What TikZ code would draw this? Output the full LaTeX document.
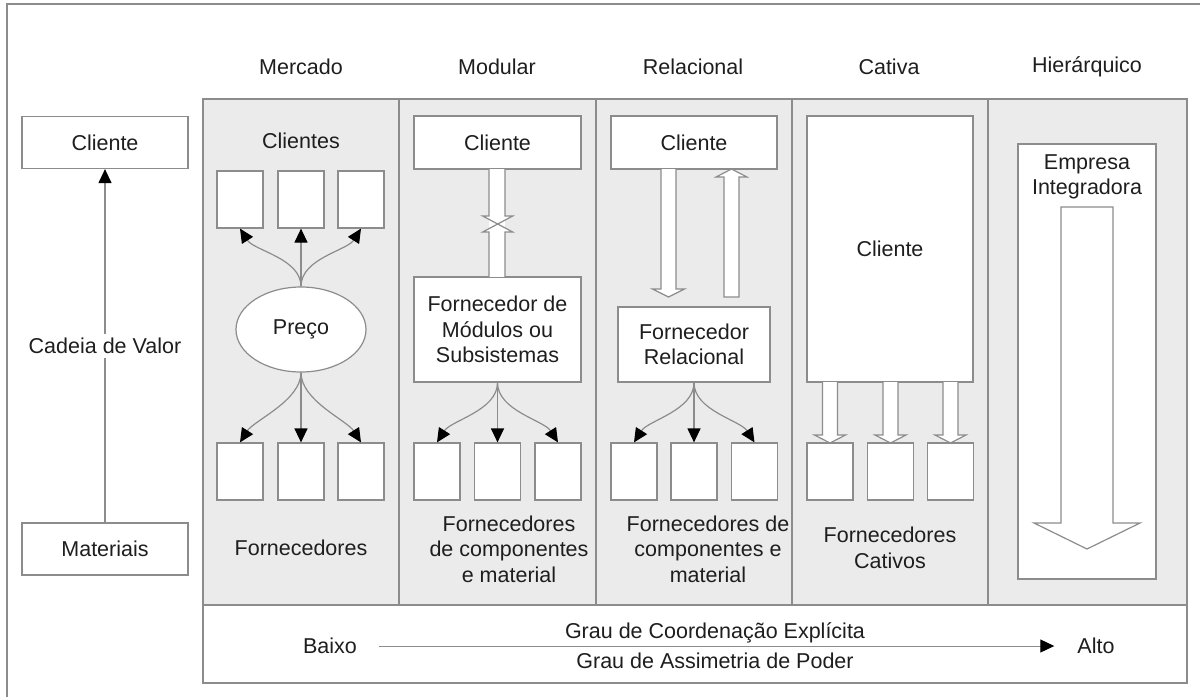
\documentclass[tikz,border=0pt]{standalone}
\usepackage{fontspec}
\setmainfont{Liberation Sans}
\usetikzlibrary{shapes.geometric,arrows.meta}
\definecolor{edge}{HTML}{8C8C8C}
\definecolor{panel}{HTML}{EBEBEB}
\definecolor{ink}{HTML}{1E1E1E}
\tikzset{
  bx/.style={draw=edge, fill=white, line width=1.2pt, inner sep=0pt, align=center},
  small/.style={bx, minimum width=46pt, minimum height=57pt},
  lbl/.style={inner sep=0pt, align=center},
  col/.style={draw=edge, fill=panel, line width=1.2pt},
  link/.style={draw=edge, line width=1.2pt, -{Triangle[length=14pt,width=13pt,color=black,fill=black]}},
  hollow/.style={draw=edge, fill=white, line width=1.2pt, line join=miter}
}
\begin{document}
\begin{tikzpicture}[x=1pt, y=-1pt, font=\fontsize{21.5}{25.5}\selectfont, text=ink]
\useasboundingbox (0,0) rectangle (1200,697);
% outer frame (left and top edges)
\draw[edge, line width=1.2pt] (7,697) -- (7,4) -- (1200,4);

% column panels
\draw[col] (203,99) rectangle (399,605);
\draw[col] (399,99) rectangle (596,605);
\draw[col] (596,99) rectangle (792,605);
\draw[col] (792,99) rectangle (988,605);
\draw[col] (988,99) rectangle (1187,605);
\draw[draw=edge, fill=white, line width=1.2pt] (203,605) rectangle (1187,683);

% column headers
\node[lbl] (hMer) at (301,67) {Mercado};
\node[lbl] (hMod) at (497,67) {Modular};
\node[lbl] (hRel) at (693,67) {Relacional};
\node[lbl] (hCat) at (889,67) {Cativa};
\node[lbl] (hHie) at (1087,67) {Hierárquico};

% value chain on the left
\node[bx, minimum width=166pt, minimum height=52pt] (vcCli) at (105,142.5) {Cliente};
\node[bx, minimum width=166pt, minimum height=52pt] (vcMat) at (105,549) {Materiais};
\draw[link] (vcMat.north) -- node[fill=white, inner xsep=2pt, inner ysep=4pt] (vcLbl) {Cadeia de Valor} (vcCli.south);

% ---- Mercado ----
\node[lbl] (mCli) at (301,141) {Clientes};
\node[small] (mt1) at (240,199.5) {};
\node[small] (mt2) at (301,199.5) {};
\node[small] (mt3) at (361,199.5) {};
\node[draw=edge, fill=white, line width=1.2pt, ellipse, minimum width=130pt, minimum height=85pt, inner sep=0pt] (price) at (301,329.5) {Preço};
\node[small] (mb1) at (240,471.5) {};
\node[small] (mb2) at (301,471.5) {};
\node[small] (mb3) at (361,471.5) {};
\node[lbl] (mFor) at (301,548) {Fornecedores};
\draw[link] (price.north) .. controls +(0,-28) and +(14,22) .. (mt1.south);
\draw[link] (price.north) -- (mt2.south);
\draw[link] (price.north) .. controls +(0,-28) and +(-14,22) .. (mt3.south);
\draw[link] (price.south) .. controls +(0,28) and +(14,-22) .. (mb1.north);
\draw[link] (price.south) -- (mb2.north);
\draw[link] (price.south) .. controls +(0,28) and +(-14,-22) .. (mb3.north);

% ---- Modular ----
\node[bx, minimum width=167pt, minimum height=53pt] (dCli) at (497.5,142.5) {Cliente};
\node[bx, minimum width=167pt, minimum height=105pt] (dSup) at (497.5,329.5) {Fornecedor de\\Módulos ou\\Subsistemas};
% link with crossed heads between client and module supplier
\fill[white] (489,169) rectangle (505,277);
\fill[white] (482.7,216) -- (512.7,232) -- (482.7,232) -- (512.7,216) -- cycle;
\draw[edge, line width=1.2pt, line join=miter]
  (489,169) -- (489,216) -- (482.7,216) -- (512.7,232) -- (505,232) -- (505,277);
\draw[edge, line width=1.2pt, line join=miter]
  (505,169) -- (505,216) -- (512.7,216) -- (482.7,232) -- (489,232) -- (489,277);
\node[small] (db1) at (437,471.5) {};
\node[small] (db2) at (497.5,471.5) {};
\node[small] (db3) at (558,471.5) {};
\node[lbl] (dFor) at (509,549) {Fornecedores\\de componentes\\e material};
\draw[link] (dSup.south) .. controls +(0,28) and +(14,-22) .. (db1.north);
\draw[link] (dSup.south) -- (db2.north);
\draw[link] (dSup.south) .. controls +(0,28) and +(-14,-22) .. (db3.north);

% ---- Relacional ----
\node[bx, minimum width=166pt, minimum height=53pt] (rCli) at (694,142.5) {Cliente};
\node[bx, minimum width=152pt, minimum height=75pt] (rSup) at (694,344.5) {Fornecedor\\Relacional};
\draw[hollow] (661,169) -- (661,289) -- (652.5,289) -- (668.5,297) -- (684.5,289) -- (676,289) -- (676,169);
\draw[hollow] (724,297) -- (724,177) -- (716,177) -- (731.5,169) -- (747,177) -- (739,177) -- (739,297) -- cycle;
\node[small] (rb1) at (634,471.5) {};
\node[small] (rb2) at (694,471.5) {};
\node[small] (rb3) at (754.5,471.5) {};
\node[lbl] (rFor) at (708,549) {Fornecedores de\\componentes e\\material};
\draw[link] (rSup.south) .. controls +(0,28) and +(14,-22) .. (rb1.north);
\draw[link] (rSup.south) -- (rb2.north);
\draw[link] (rSup.south) .. controls +(0,28) and +(-14,-22) .. (rb3.north);

% ---- Cativa ----
\node[bx, minimum width=166pt, minimum height=266pt] (cCli) at (890,249) {Cliente};
\node[small] (cb1) at (830,471.5) {};
\node[small] (cb2) at (890.5,471.5) {};
\node[small] (cb3) at (950.5,471.5) {};
\foreach \cx in {830,890.5,950.5}{
  \draw[hollow] (\cx-7.5,382) -- (\cx-7.5,435) -- (\cx-15.5,435) -- (\cx,443) -- (\cx+15.5,435) -- (\cx+7.5,435) -- (\cx+7.5,382);
}
\node[lbl] (cFor) at (890,548) {Fornecedores\\Cativos};

% ---- Hierárquico ----
\node[bx, minimum width=138pt, minimum height=435pt] (hEmp) at (1087,361.5) {};
\node[lbl] (hTxt) at (1087,177) {Empresa\\Integradora};
\draw[hollow] (1061,207) -- (1061,523) -- (1034,523) -- (1087,549) -- (1140,523) -- (1113,523) -- (1113,207) -- cycle;

% ---- bottom scale ----
\node[lbl] (low) at (330,646) {Baixo};
\node[lbl] (high) at (1096,646) {Alto};
\draw[link, line width=1pt, shorten <=22pt, shorten >=23pt] (low.east) -- (high.west);
\node[lbl] (coord) at (715,633) {Grau de Coordenação Explícita};
\node[lbl] (asym) at (715,661) {Grau de Assimetria de Poder};
\end{tikzpicture}
\end{document}
